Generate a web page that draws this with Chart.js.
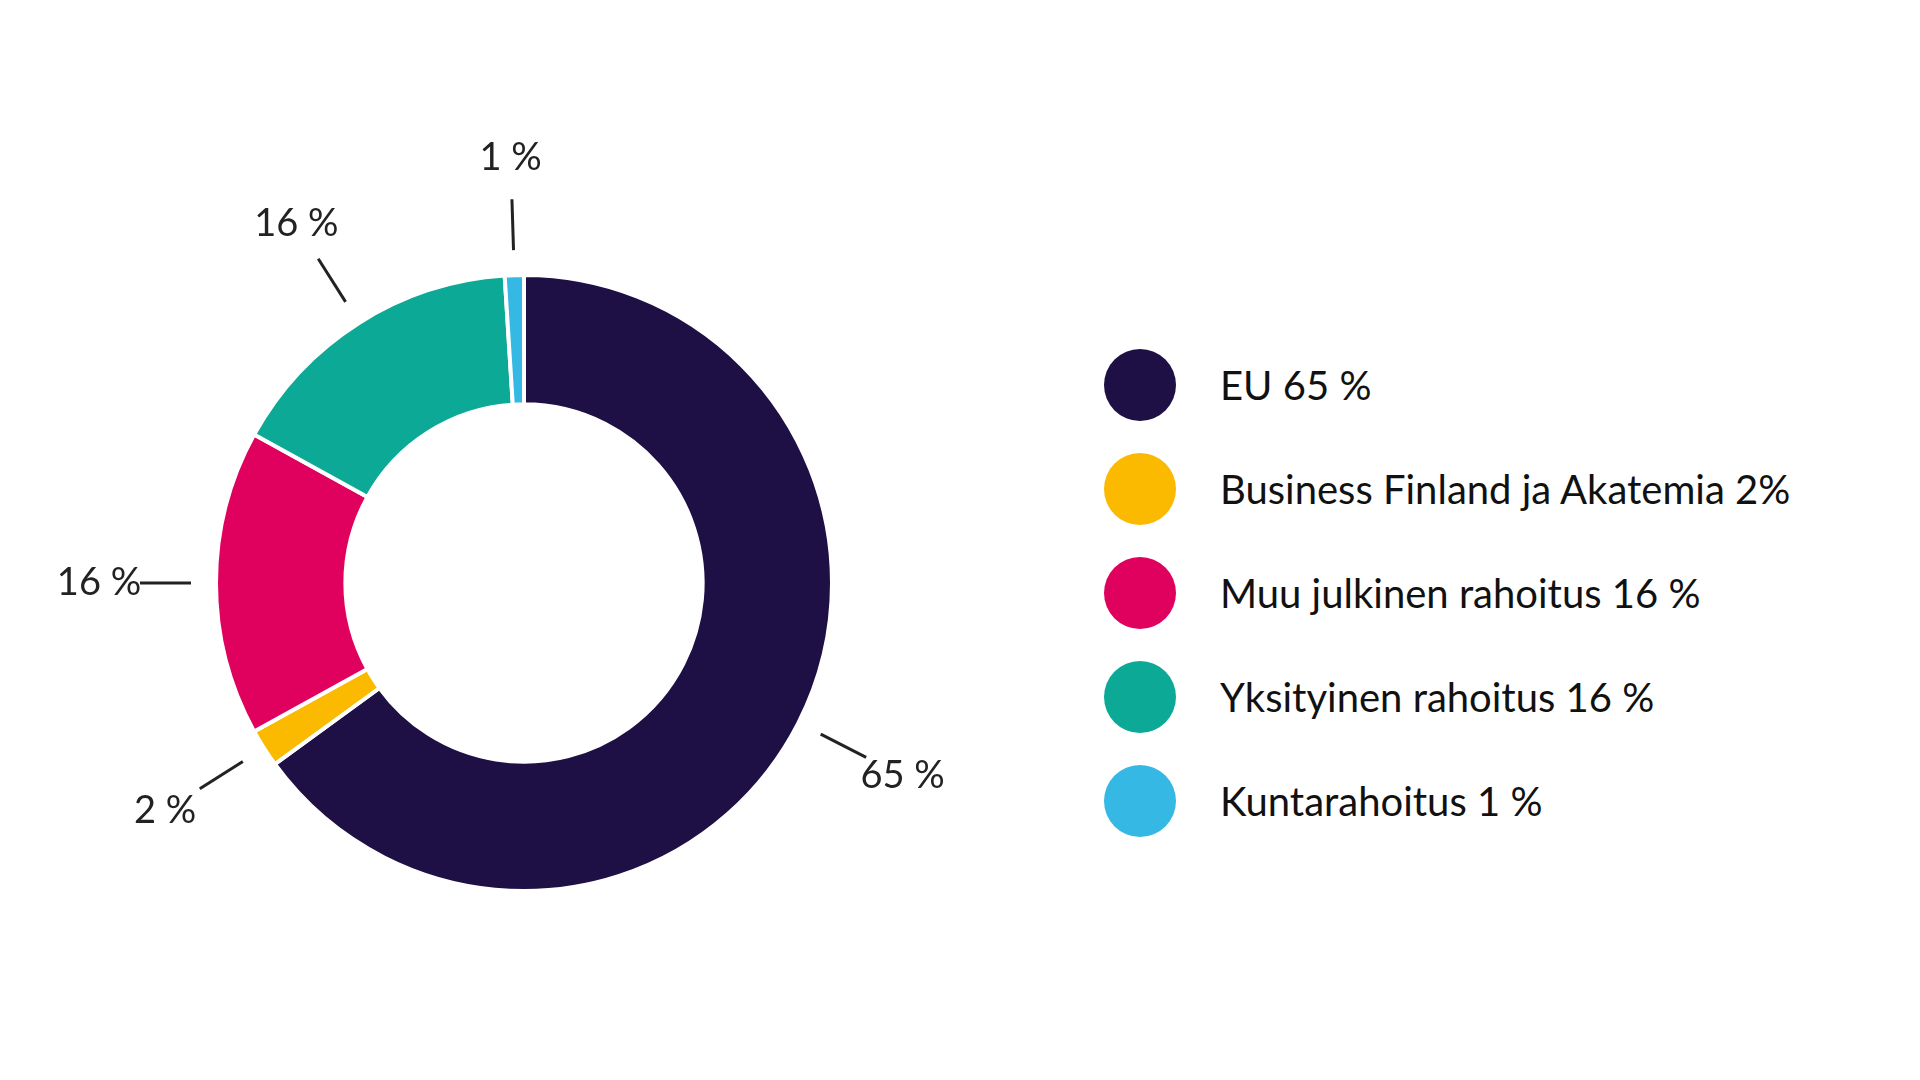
<!DOCTYPE html>
<html><head><meta charset="utf-8">
<script src="https://cdn.jsdelivr.net/npm/chart.js@4/dist/chart.umd.min.js"></script>
<style>
body{margin:0;background:#fff;font-family:Lato,"Open Sans",sans-serif;}
#wrap{position:absolute;left:0;top:0;width:1048px;height:1080px;}
#legend{position:absolute;left:1104px;top:333px;}
.item{display:flex;align-items:center;height:104px;font-size:40px;color:#111;}
.dot{width:72px;height:72px;border-radius:50%;margin-right:44px;}
</style></head>
<body>
<div id="wrap"><canvas id="c"></canvas></div>
<div id="legend"></div>
<script>
// === DATA ===
const categories = ['EU', 'Business Finland ja Akatemia', 'Muu julkinen rahoitus', 'Yksityinen rahoitus', 'Kuntarahoitus'];
const shares = [65, 2, 16, 16, 1];
const legendLabels = ['EU 65 %', 'Business Finland ja Akatemia 2%', 'Muu julkinen rahoitus 16 %', 'Yksityinen rahoitus 16 %', 'Kuntarahoitus 1 %'];
const colors = ['#1e0f45', '#fbb900', '#e0005e', '#0caa96', '#35b8e3'];

// leader lines + outside labels
const outsideLabels = {
  id: 'outsideLabels',
  afterDatasetsDraw(chart) {
    const ctx = chart.ctx;
    chart.getDatasetMeta(0).data.forEach((arc, i) => {
      const mid = (arc.startAngle + arc.endAngle) / 2;
      const cos = Math.cos(mid), sin = Math.sin(mid);
      const R = arc.outerRadius;
      ctx.save();
      ctx.strokeStyle = '#222';
      ctx.lineWidth = 3;
      ctx.beginPath();
      ctx.moveTo(arc.x + cos * (R + 25), arc.y + sin * (R + 25));
      ctx.lineTo(arc.x + cos * (R + 76), arc.y + sin * (R + 76));
      ctx.stroke();
      ctx.fillStyle = '#222';
      ctx.font = '38px Lato, "Open Sans", sans-serif';
      ctx.textAlign = 'center';
      ctx.textBaseline = 'middle';
      ctx.fillText(shares[i] + ' %', arc.x + cos * (R + 117), arc.y + sin * (R + 117));
      ctx.restore();
    });
  }
};

new Chart(document.getElementById('c'), {
  type: 'doughnut',
  data: {
    labels: categories,
    datasets: [{ data: shares, backgroundColor: colors, borderColor: '#fff', borderWidth: 4 }]
  },
  options: {
    responsive: true,
    maintainAspectRatio: false,
    animation: false,
    radius: 308,
    cutout: '58%',
    layout: { padding: { top: 86 } },
    plugins: { legend: { display: false }, tooltip: { enabled: false } }
  },
  plugins: [outsideLabels]
});

const legend = document.getElementById('legend');
legendLabels.forEach((t, i) => {
  legend.innerHTML += `<div class="item"><div class="dot" style="background:${colors[i]}"></div>${t}</div>`;
});
</script>
</body></html>
